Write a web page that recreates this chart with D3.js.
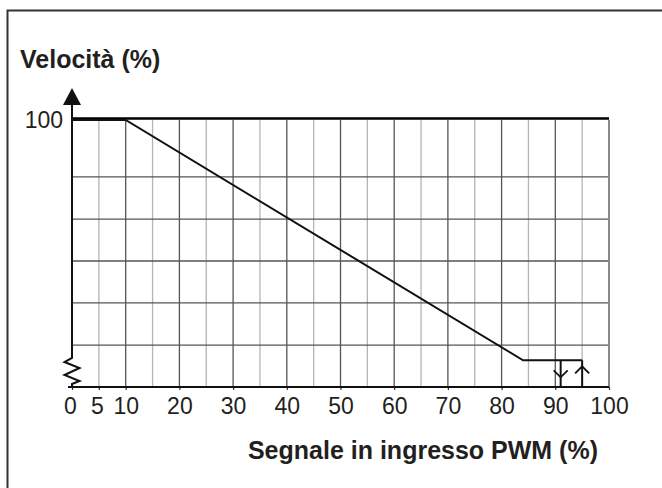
<!DOCTYPE html>
<html>
<head>
<meta charset="utf-8">
<script src="https://cdn.jsdelivr.net/npm/d3@7"></script>
<style>
  html, body { margin: 0; padding: 0; background: #fff; }
  svg { display: block; font-family: "Liberation Sans", Arial, Helvetica, sans-serif; }
</style>
</head>
<body>
<svg id="chart" width="662" height="488"></svg>
<script>
// ---- data ----
const yTitle = "Velocità (%)";
const xTitle = "Segnale in ingresso PWM (%)";
const xTickValues = [0, 5, 10, 20, 30, 40, 50, 60, 70, 80, 90, 100];
const xGridValues = [5, 10, 15, 20, 25, 30, 35, 40, 45, 50, 55, 60, 65, 70, 75, 80, 85, 90, 95];
const yTickValues = [100];
const yGridValues = [15.7, 31.5, 47.2, 62.9, 78.7];
const curvePwm = [0, 10, 84, 95];
const curveSpeed = [100, 100, 10, 10];
const hysteresisDownPwm = 91;
const hysteresisUpPwm = 95;
const hysteresisSpeed = 10;

// ---- layout ----
const svg = d3.select("#chart");
const x = d3.scaleLinear().domain([0, 100]).range([72, 609]);
const y = d3.scaleLinear().domain([0, 100]).range([387, 120]);
const ink = "#231f20";

// outer frame
svg.append("rect").attr("x", 7.5).attr("y", 10.5).attr("width", 700).attr("height", 600)
  .attr("fill", "none").attr("stroke", "#333").attr("stroke-width", 2);

// vertical grid
svg.append("g").selectAll("line").data(xGridValues).join("line")
  .attr("x1", d => x(d)).attr("x2", d => x(d))
  .attr("y1", y(100)).attr("y2", y(0))
  .attr("stroke", d => d % 10 === 0 ? "#555" : "#b5b5b5")
  .attr("stroke-width", 1.3);

// horizontal grid
svg.append("g").selectAll("line").data(yGridValues).join("line")
  .attr("x1", x(0)).attr("x2", x(100))
  .attr("y1", d => y(d)).attr("y2", d => y(d))
  .attr("stroke", "#555").attr("stroke-width", 1.3);

// right border
svg.append("line").attr("x1", x(100)).attr("x2", x(100)).attr("y1", y(100)).attr("y2", y(0))
  .attr("stroke", "#888").attr("stroke-width", 2);

// top line at 100
svg.append("line").attr("x1", x(0)).attr("x2", x(100)).attr("y1", y(100) - 1.5).attr("y2", y(100) - 1.5)
  .attr("stroke", "#000").attr("stroke-width", 2.5);

// x axis
const xAxis = d3.axisBottom(x).tickValues(xTickValues).tickSize(3).tickPadding(8)
  .tickFormat(d3.format("d"));
const gx = svg.append("g").attr("transform", `translate(0,${y(0)})`).call(xAxis);
gx.select(".domain").remove();
gx.selectAll(".tick line").attr("stroke", "#333").attr("stroke-width", 1.2);
gx.selectAll(".tick text").attr("font-size", 23).attr("fill", ink)
  .attr("font-family", "Liberation Sans, Arial, sans-serif")
  .attr("dx", d => d === 0 ? -2 : d === 5 ? -2 : 0);
svg.append("line").attr("x1", x(0) - 4).attr("x2", x(100)).attr("y1", y(0)).attr("y2", y(0))
  .attr("stroke", "#111").attr("stroke-width", 2);

// y axis label 100
const yAxis = d3.axisLeft(y).tickValues(yTickValues).tickSize(0).tickPadding(9);
const gy = svg.append("g").attr("transform", `translate(${x(0)},0)`).call(yAxis);
gy.select(".domain").remove();
gy.selectAll(".tick text").attr("font-size", 23).attr("fill", ink)
  .attr("font-family", "Liberation Sans, Arial, sans-serif");

// y axis line with break (zigzag)
const x0 = x(0);
const yb = y(0);
const axisPath = d3.path();
axisPath.moveTo(x0, y(100) - 16);
axisPath.lineTo(x0, yb - 29);
axisPath.lineTo(x0 - 7.5, yb - 25);
axisPath.lineTo(x0 + 7.5, yb - 19);
axisPath.lineTo(x0 - 7.5, yb - 12);
axisPath.lineTo(x0 + 7.5, yb - 6);
axisPath.lineTo(x0, yb - 3);
axisPath.lineTo(x0, yb);
svg.append("path").attr("d", axisPath.toString()).attr("fill", "none")
  .attr("stroke", "#111").attr("stroke-width", 2).attr("stroke-linejoin", "miter");

// arrow head on y axis
svg.append("path")
  .attr("d", `M${x0},${y(100) - 32} L${x0 - 9},${y(100) - 15} L${x0 + 9},${y(100) - 15} Z`)
  .attr("fill", "#111");

// data curve
const pts = curvePwm.map((p, i) => [x(p), y(curveSpeed[i])]);
svg.append("path").attr("d", d3.line()(pts)).attr("fill", "none")
  .attr("stroke", "#111").attr("stroke-width", 2);

// hysteresis arrows
svg.append("line").attr("x1", x(hysteresisDownPwm)).attr("x2", x(hysteresisDownPwm))
  .attr("y1", y(hysteresisSpeed)).attr("y2", y(0)).attr("stroke", "#111").attr("stroke-width", 2);
svg.append("path")
  .attr("d", `M${x(hysteresisDownPwm) - 7},${y(hysteresisSpeed) + 10} L${x(hysteresisDownPwm)},${y(hysteresisSpeed) + 17} L${x(hysteresisDownPwm) + 7},${y(hysteresisSpeed) + 10}`)
  .attr("fill", "none").attr("stroke", "#111").attr("stroke-width", 1.8);
svg.append("line").attr("x1", x(hysteresisUpPwm)).attr("x2", x(hysteresisUpPwm))
  .attr("y1", y(hysteresisSpeed)).attr("y2", y(0)).attr("stroke", "#111").attr("stroke-width", 2);
svg.append("path")
  .attr("d", `M${x(hysteresisUpPwm) - 7},${y(hysteresisSpeed) + 13} L${x(hysteresisUpPwm)},${y(hysteresisSpeed) + 6} L${x(hysteresisUpPwm) + 7},${y(hysteresisSpeed) + 13}`)
  .attr("fill", "none").attr("stroke", "#111").attr("stroke-width", 1.8);

// titles
svg.append("text").attr("x", 20).attr("y", 68).attr("font-size", 25).attr("font-weight", "bold")
  .attr("fill", ink).text(yTitle);
svg.append("text").attr("x", 598).attr("y", 459).attr("text-anchor", "end")
  .attr("font-size", 25).attr("font-weight", "bold").attr("fill", ink).text(xTitle);
</script>
</body>
</html>
